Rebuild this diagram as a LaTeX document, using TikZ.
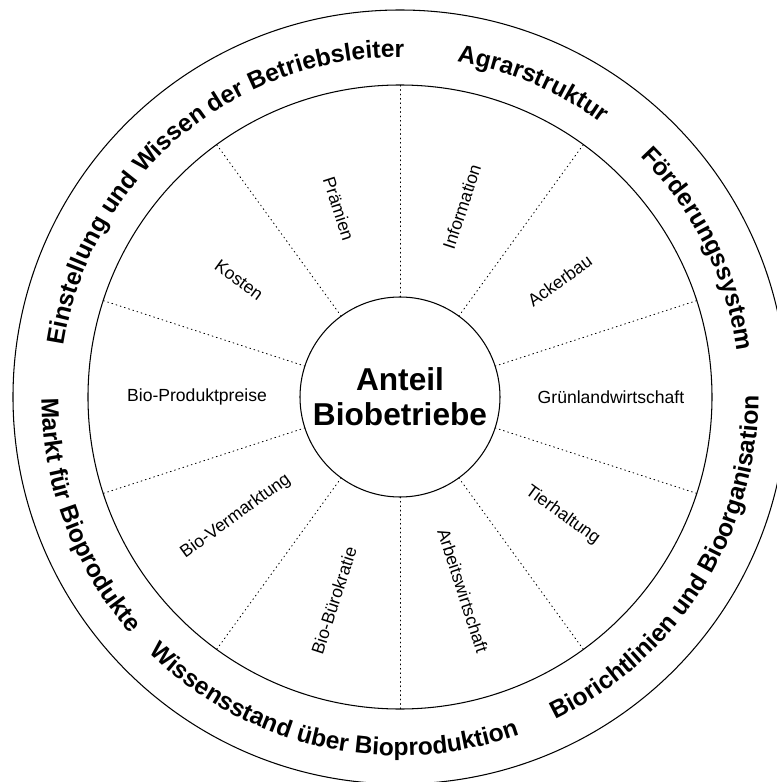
\documentclass[tikz,border=0pt]{standalone}
\usepackage{fontspec}
\setmainfont{Liberation Sans}
\usetikzlibrary{decorations.text}

\newcommand{\ringfont}{\fontsize{14}{14}\selectfont\bfseries}

\begin{document}
\begin{tikzpicture}[line join=round, line cap=round, font=\fontsize{10}{12}\selectfont]
	\tikzset{ringline/.style={draw, circle, line width=0.6pt, inner sep=0pt, outer sep=0pt},
		spoke/.style={dotted, line width=0.5pt},
		sector/.style={inner sep=0pt}}
	\useasboundingbox (-8,-7.7) rectangle (7.52,7.94);
	\node[ringline, minimum size=15.48cm] (rim) at (0,0) {};
	\node[ringline, minimum size=12.48cm] (wheel) at (0,0) {};
	\node[ringline, minimum size=4cm, align=center, font=\fontsize{18}{20}\selectfont\bfseries] (anteil) at (0,0) {Anteil\\Biobetriebe};
	%spokes
	\foreach \a in {18,54,...,342}
		\draw[spoke] (anteil.\a) -- (wheel.\a);
	%sector labels
	\foreach \a/\r/\rot/\txt in {72/4.0/72/Information, 36/3.95/36/Ackerbau, 0/4.22/0/Grünlandwirtschaft, -36/4.02/-36/Tierhaltung, -72/4.08/-72/Arbeitswirtschaft, -108/4.28/72/Bio-Bürokratie, -144/4.06/36/Bio-Vermarktung, 180/4.06/0/Bio-Produktpreise, 144/3.98/-36/Kosten, 108/3.96/-72/Prämien}
		\node[sector, rotate=\rot] (s\a) at (\a:\r) {\txt};
	%outer ring, top half
	\path[decorate, decoration={text along path, text align=center, text={|\ringfont|Einstellung und Wissen der Betriebsleiter}}] (130.3+85:6.8) arc[start angle=130.3+85, end angle=130.3-85, radius=6.8];
	\path[decorate, decoration={text along path, text align=center, text={|\ringfont|Agrarstruktur}}] (67+60:6.8) arc[start angle=67+60, end angle=67-60, radius=6.8];
	\path[decorate, decoration={text along path, text align=center, text={|\ringfont|Förderungssystem}}] (26.4+60:6.8) arc[start angle=26.4+60, end angle=26.4-60, radius=6.8];
	%outer ring, bottom half
	\path[decorate, decoration={text along path, text align=center, text={|\ringfont|Biorichtlinien und Bioorganisation}}] (-32-70:7.17) arc[start angle=-32-70, end angle=-32+70, radius=7.17];
	\path[decorate, decoration={text along path, text align=center, text={|\ringfont|Wissensstand über Bioproduktion}}] (-102.5-70:7.17) arc[start angle=-102.5-70, end angle=-102.5+70, radius=7.17];
	\path[decorate, decoration={text along path, text align=center, text={|\ringfont|Markt für Bioprodukte}}] (200.7-60:7.17) arc[start angle=200.7-60, end angle=200.7+60, radius=7.17];
\end{tikzpicture}
\end{document}
